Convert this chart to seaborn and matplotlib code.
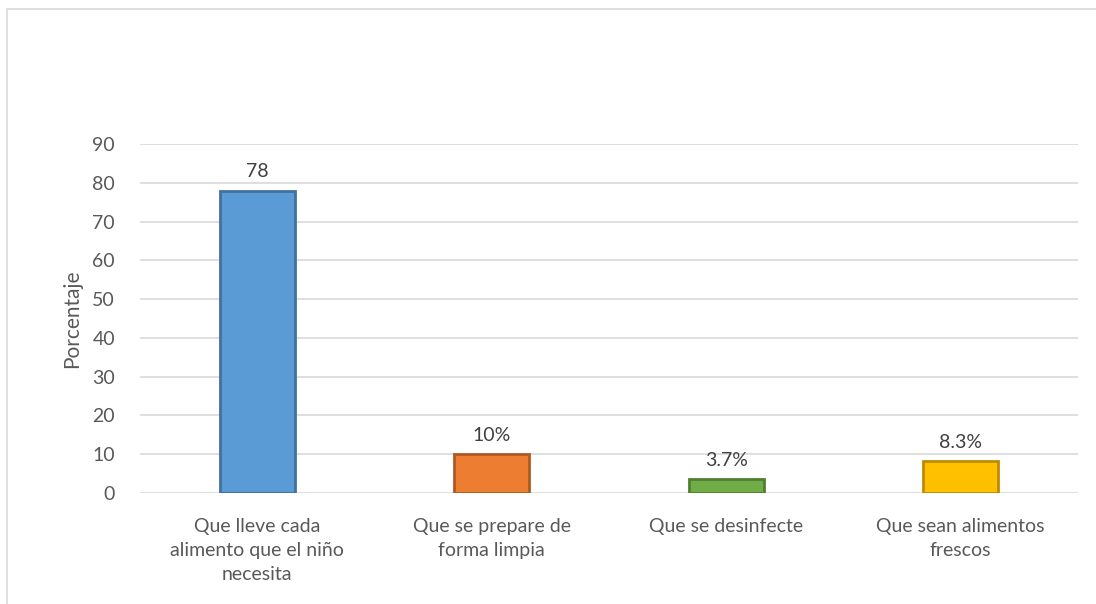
import matplotlib
matplotlib.use("Agg")
import matplotlib.pyplot as plt
import seaborn as sns
import pandas as pd
from matplotlib.patches import Rectangle

categories = ["Que lleve cada\nalimento que el niño\nnecesita",
              "Que se prepare de\nforma limpia",
              "Que se desinfecte",
              "Que sean alimentos\nfrescos"]
values = [78, 10, 3.7, 8.3]
value_labels = ["78", "10%", "3.7%", "8.3%"]
yticks = [0, 10, 20, 30, 40, 50, 60, 70, 80, 90]

fill_colors = ["#5B9BD5", "#ED7D31", "#70AD47", "#FFC000"]
edge_colors = ["#41719C", "#AE5A21", "#507E32", "#BC8C00"]

sns.set_theme(style="white")
plt.rcParams['font.family'] = ['Lato', 'DejaVu Sans']
text_color = "#595959"

df = pd.DataFrame({"cat": categories, "val": values})

fig = plt.figure(figsize=(10.96, 6.04), dpi=100)
ax = fig.add_axes([140/1096, 1 - 493/604, (1078-140)/1096, (493-144)/604])

sns.barplot(data=df, x="cat", y="val", hue="cat", palette=fill_colors,
            saturation=1, width=0.32, ax=ax, legend=False, dodge=False)

for i, p in enumerate(ax.patches):
    p.set_edgecolor(edge_colors[i])
    p.set_linewidth(2)
    p.set_zorder(3)

for i, (v, lab) in enumerate(zip(values, value_labels)):
    ax.text(i, v + 2.6, lab, ha="center", va="bottom", fontsize=14, color="#404040")

ax.set_ylim(0, 90)
ax.set_xlim(-0.5, 3.5)
ax.set_yticks(yticks)
ax.set_yticklabels([str(t) for t in yticks], fontsize=14, color=text_color)
ax.tick_params(axis="x", labelsize=14, labelcolor=text_color, length=0, pad=18)
for t in ax.get_xticklabels():
    t.set_linespacing(1.5)
ax.tick_params(axis="y", length=0, pad=18)
ax.yaxis.grid(True, color="#D9D9D9", linewidth=1.2, zorder=0)
ax.set_axisbelow(True)
for s in ax.spines.values():
    s.set_visible(False)
ax.set_xlabel("")
ax.set_ylabel("Porcentaje", fontsize=15, color=text_color, labelpad=7)

# outer chart border
fig.patches.append(Rectangle((7/1096, -0.1), 1.2, 1 - 9/604 + 0.1,
                             transform=fig.transFigure, fill=False,
                             edgecolor="#D9D9D9", linewidth=1.2))

fig.savefig("out.png", dpi=100)
